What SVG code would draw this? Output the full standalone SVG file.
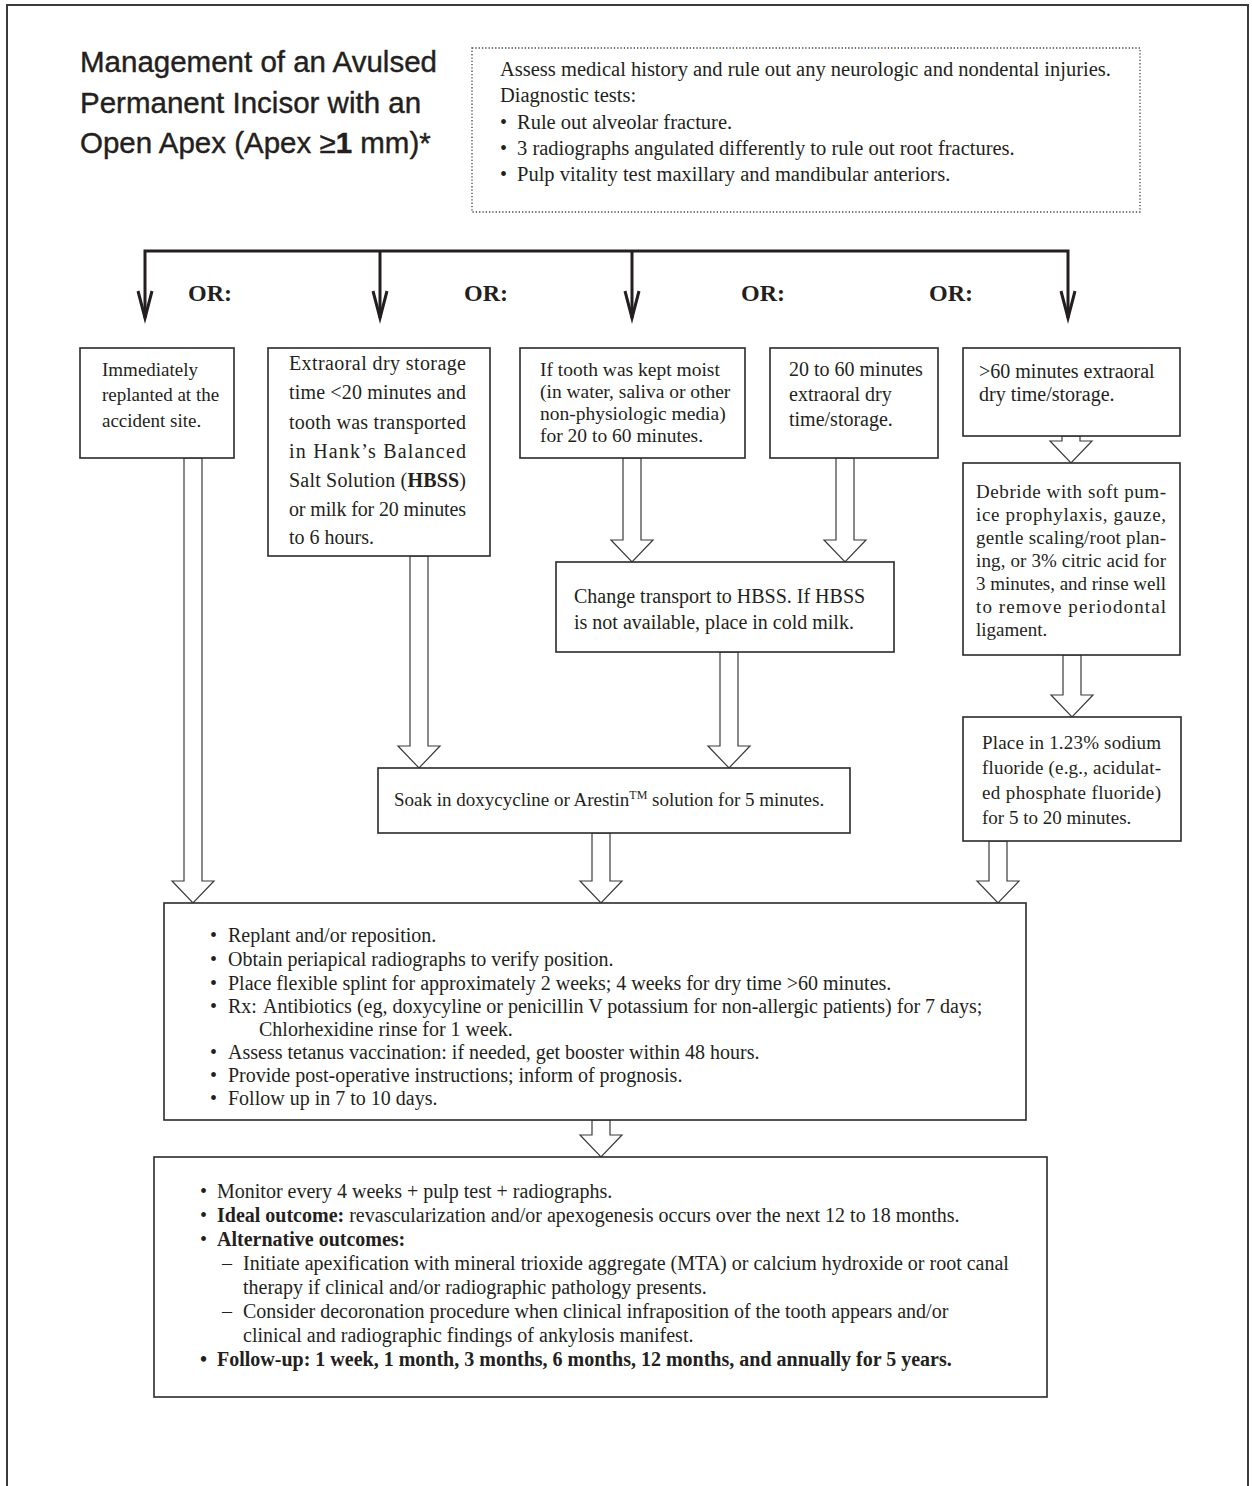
<svg xmlns="http://www.w3.org/2000/svg" width="1252" height="1486" viewBox="0 0 1252 1486">
<style>
.frame{fill:none;stroke:#3a3a3a;stroke-width:2}
.box{fill:#fff;stroke:#2a2a2a;stroke-width:1.6}
.dot{fill:#fff;stroke:#444;stroke-width:1.3;stroke-dasharray:1.3 2}
.t{font-family:"Liberation Serif","Times New Roman",serif;font-size:20px;fill:#231f20}
.s{font-size:19px}
.m{font-size:19.5px}
.l{font-size:20.5px}
.b{font-weight:bold}
.title{font-family:"Liberation Sans",Arial,sans-serif;font-size:29.5px;fill:#231f20;stroke:#231f20;stroke-width:0.4}
.or{font-family:"Liberation Serif",serif;font-size:24px;font-weight:bold;fill:#231f20}
.conn{fill:none;stroke:#231f20;stroke-width:3}
.ha{fill:#fff;stroke:#3a3a3a;stroke-width:1.2}
</style>
<rect width="1252" height="1486" fill="#fff"/>
<path class="frame" d="M7,1486 V5 H1248 V1486"/>

<g id="title">
<text class="title" x="80" y="72">Management of an Avulsed</text>
<text class="title" x="80" y="113">Permanent Incisor with an</text>
<text class="title" x="80" y="153">Open Apex (Apex ≥<tspan font-weight="bold">1</tspan> mm)*</text>
</g>

<g id="assess">
<rect class="dot" x="472" y="48" width="668" height="164"/>
<text class="t l" x="500" y="76">Assess medical history and rule out any neurologic and nondental injuries.</text>
<text class="t l" x="500" y="102">Diagnostic tests:</text>
<text class="t" x="500" y="129">•</text><text class="t l" x="517" y="129">Rule out alveolar fracture.</text>
<text class="t" x="500" y="155">•</text><text class="t l" x="517" y="155">3 radiographs angulated differently to rule out root fractures.</text>
<text class="t" x="500" y="181">•</text><text class="t l" x="517" y="181">Pulp vitality test maxillary and mandibular anteriors.</text>
</g>

<g id="connectors">
<path class="conn" d="M145,318 V251 H1068 V318"/>
<path class="conn" d="M380,251 V318"/>
<path class="conn" d="M632,251 V318"/>
<path class="conn" d="M138,291 L145,318 L152,291"/>
<path class="conn" d="M373,291 L380,318 L387,291"/>
<path class="conn" d="M625,291 L632,318 L639,291"/>
<path class="conn" d="M1061,291 L1068,318 L1075,291"/>
<text class="or" x="188" y="301">OR:</text>
<text class="or" x="464" y="301">OR:</text>
<text class="or" x="741" y="301">OR:</text>
<text class="or" x="929" y="301">OR:</text>
<polygon class="ha" points="184,458 184,881 172,881 193,903 214,881 202,881 202,458"/>
<polygon class="ha" points="410,556 410,746 398,746 419,768 440,746 428,746 428,556"/>
<polygon class="ha" points="623,458 623,540 611,540 632,562 653,540 641,540 641,458"/>
<polygon class="ha" points="836,458 836,540 824,540 845,562 866,540 854,540 854,458"/>
<polygon class="ha" points="1062,436 1062,441 1050,441 1071,463 1092,441 1080,441 1080,436"/>
<polygon class="ha" points="720,652 720,746 708,746 729,768 750,746 738,746 738,652"/>
<polygon class="ha" points="1063,655 1063,695 1051,695 1072,717 1093,695 1081,695 1081,655"/>
<polygon class="ha" points="592,833 592,881 580,881 601,903 622,881 610,881 610,833"/>
<polygon class="ha" points="989,841 989,881 977,881 998,903 1019,881 1007,881 1007,841"/>
<polygon class="ha" points="592,1120 592,1135 580,1135 601,1157 622,1135 610,1135 610,1120"/>
</g>

<g id="node-immediate">
<rect class="box" x="80" y="348" width="154" height="110"/>
<text class="t s" x="102" y="376">Immediately</text>
<text class="t s" x="102" y="401">replanted at the</text>
<text class="t s" x="102" y="427">accident site.</text>
</g>

<g id="node-hbss">
<rect class="box" x="268" y="348" width="222" height="208"/>
<text class="t" x="289" y="370" textLength="177" lengthAdjust="spacing">Extraoral dry storage</text>
<text class="t" x="289" y="399" textLength="177" lengthAdjust="spacing">time &lt;20 minutes and</text>
<text class="t" x="289" y="429" textLength="177" lengthAdjust="spacing">tooth was transported</text>
<text class="t" x="289" y="458" textLength="177" lengthAdjust="spacing">in Hank’s Balanced</text>
<text class="t" x="289" y="487" textLength="177" lengthAdjust="spacing">Salt Solution (<tspan class="b">HBSS</tspan>)</text>
<text class="t" x="289" y="516" textLength="177" lengthAdjust="spacing">or milk for 20 minutes</text>
<text class="t" x="289" y="544">to 6 hours.</text>
</g>

<g id="node-moist">
<rect class="box" x="520" y="348" width="225" height="110"/>
<text class="t m" x="540" y="376">If tooth was kept moist</text>
<text class="t m" x="540" y="398">(in water, saliva or other</text>
<text class="t m" x="540" y="420">non-physiologic media)</text>
<text class="t m" x="540" y="442">for 20 to 60 minutes.</text>
</g>

<g id="node-dry20">
<rect class="box" x="770" y="348" width="168" height="110"/>
<text class="t" x="789" y="376">20 to 60 minutes</text>
<text class="t" x="789" y="401">extraoral dry</text>
<text class="t" x="789" y="426">time/storage.</text>
</g>

<g id="node-dry60">
<rect class="box" x="963" y="348" width="217" height="88"/>
<text class="t" x="979" y="378">&gt;60 minutes extraoral</text>
<text class="t" x="979" y="401">dry time/storage.</text>
</g>

<g id="node-change">
<rect class="box" x="556" y="562" width="338" height="90"/>
<text class="t" x="574" y="603">Change transport to HBSS. If HBSS</text>
<text class="t" x="574" y="629">is not available, place in cold milk.</text>
</g>

<g id="node-debride">
<rect class="box" x="963" y="463" width="217" height="192"/>
<text class="t s" x="976" y="498" textLength="190" lengthAdjust="spacing">Debride with soft pum-</text>
<text class="t s" x="976" y="521" textLength="190" lengthAdjust="spacing">ice prophylaxis, gauze,</text>
<text class="t s" x="976" y="544" textLength="190" lengthAdjust="spacing">gentle scaling/root plan-</text>
<text class="t s" x="976" y="567" textLength="190" lengthAdjust="spacing">ing, or 3% citric acid for</text>
<text class="t s" x="976" y="590" textLength="190" lengthAdjust="spacing">3 minutes, and rinse well</text>
<text class="t s" x="976" y="613" textLength="190" lengthAdjust="spacing">to remove periodontal</text>
<text class="t s" x="976" y="636">ligament.</text>
</g>

<g id="node-fluoride">
<rect class="box" x="963" y="717" width="218" height="124"/>
<text class="t s" x="982" y="749" textLength="179" lengthAdjust="spacing">Place in 1.23% sodium</text>
<text class="t s" x="982" y="774" textLength="179" lengthAdjust="spacing">fluoride (e.g., acidulat-</text>
<text class="t s" x="982" y="799" textLength="179" lengthAdjust="spacing">ed phosphate fluoride)</text>
<text class="t s" x="982" y="824">for 5 to 20 minutes.</text>
</g>

<g id="node-soak">
<rect class="box" x="378" y="768" width="472" height="65"/>
<text class="t s" x="394" y="806">Soak in doxycycline or Arestin<tspan font-size="12" dy="-7">TM</tspan><tspan dy="7"> solution for 5 minutes.</tspan></text>
</g>

<g id="node-replant">
<rect class="box" x="164" y="903" width="862" height="217"/>
<text class="t" x="210" y="942">•</text><text class="t" x="228" y="942">Replant and/or reposition.</text>
<text class="t" x="210" y="966">•</text><text class="t" x="228" y="966">Obtain periapical radiographs to verify position.</text>
<text class="t" x="210" y="990">•</text><text class="t" x="228" y="990">Place flexible splint for approximately 2 weeks; 4 weeks for dry time &gt;60 minutes.</text>
<text class="t" x="210" y="1013">•</text><text class="t" x="228" y="1013">Rx:</text><text class="t" x="263" y="1013">Antibiotics (eg, doxycyline or penicillin V potassium for non-allergic patients) for 7 days;</text>
<text class="t" x="259" y="1036">Chlorhexidine rinse for 1 week.</text>
<text class="t" x="210" y="1059">•</text><text class="t" x="228" y="1059">Assess tetanus vaccination: if needed, get booster within 48 hours.</text>
<text class="t" x="210" y="1082">•</text><text class="t" x="228" y="1082">Provide post-operative instructions; inform of prognosis.</text>
<text class="t" x="210" y="1105">•</text><text class="t" x="228" y="1105">Follow up in 7 to 10 days.</text>
</g>

<g id="node-monitor">
<rect class="box" x="154" y="1157" width="893" height="240"/>
<text class="t" x="200" y="1198">•</text><text class="t" x="217" y="1198">Monitor every 4 weeks + pulp test + radiographs.</text>
<text class="t" x="200" y="1222">•</text><text class="t" x="217" y="1222"><tspan class="b">Ideal outcome:</tspan> revascularization and/or apexogenesis occurs over the next 12 to 18 months.</text>
<text class="t" x="200" y="1246">•</text><text class="t b" x="217" y="1246">Alternative outcomes:</text>
<text class="t" x="222" y="1270">–</text><text class="t" x="243" y="1270">Initiate apexification with mineral trioxide aggregate (MTA) or calcium hydroxide or root canal</text>
<text class="t" x="243" y="1294">therapy if clinical and/or radiographic pathology presents.</text>
<text class="t" x="222" y="1318">–</text><text class="t" x="243" y="1318">Consider decoronation procedure when clinical infraposition of the tooth appears and/or</text>
<text class="t" x="243" y="1342">clinical and radiographic findings of ankylosis manifest.</text>
<text class="t b" x="200" y="1366">•</text><text class="t b" x="217" y="1366">Follow-up: 1 week, 1 month, 3 months, 6 months, 12 months, and annually for 5 years.</text>
</g>
</svg>
